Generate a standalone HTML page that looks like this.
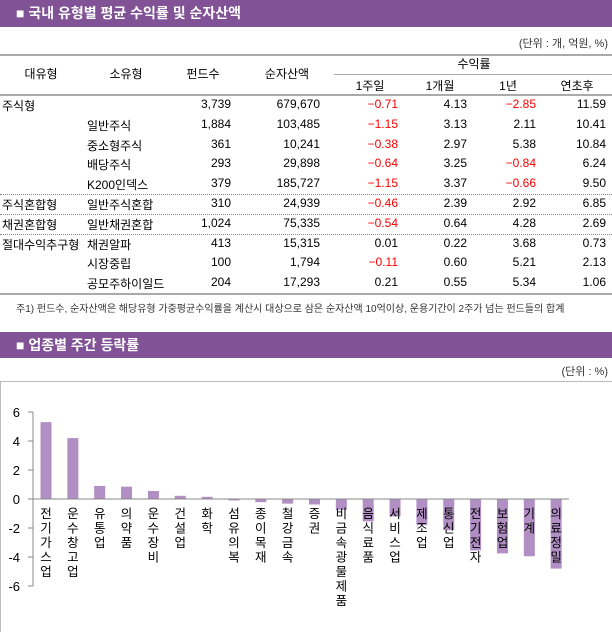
<!DOCTYPE html>
<html><head><meta charset="utf-8"><style>
body{margin:0;width:612px;height:632px;background:#fff;font-family:"Liberation Sans","Noto Sans CJK KR",sans-serif;position:relative;overflow:hidden;font-size:12px;color:#000}
.bar{position:absolute;left:0;width:612px;height:27px;background:#825296;color:#fff;font-size:14px;font-weight:bold;line-height:27px}
.bar span{margin-left:16px}
.abs{position:absolute;white-space:nowrap}
.r{text-align:right}
.red{color:#f00}
</style></head><body>
<div class="bar" style="top:0"><span>■ 국내 유형별 평균 수익률 및 순자산액</span></div>
<div class="abs" style="right:4px;top:35px;font-size:11px;color:#333">(단위 : 개, 억원, %)</div>
<div class="abs" style="left:0;top:54px;width:612px;border-top:2px solid #aaa"></div>
<div class="abs" style="left:334px;top:74px;width:278px;border-top:1px solid #aaa"></div>
<div class="abs" style="left:0;top:94px;width:612px;border-top:2px solid #aaa"></div>
<div id="tbl"></div>
<div class="abs" style="left:16px;top:300px;font-size:10px;color:#333">주1) 펀드수, 순자산액은 해당유형 가중평균수익률을 계산시 대상으로 삼은 순자산액 10억이상, 운용기간이 2주가 넘는 펀드들의 합계</div>
<div class="bar" style="top:332px;height:26px;line-height:26px"><span>■ 업종별 주간 등락률</span></div>
<div class="abs" style="right:4px;top:363px;font-size:11px;color:#333">(단위 : %)</div>
<svg class="abs" style="left:0;top:0" width="612" height="632" id="ch">
<rect x="0.5" y="381.5" width="640" height="260" fill="none" stroke="#bbb"/>
</svg>
<script>
const heads=[["대유형",41,72],["소유형",126,72],["펀드수",203,72],["순자산액",287,72],["수익률",474,62],["1주일",370,84],["1개월",440,84],["1년",508,84],["연초후",577,84]];
const rows=[["주식형","","3,739","679,670","-0.71","4.13","-2.85","11.59"],
["","일반주식","1,884","103,485","-1.15","3.13","2.11","10.41"],
["","중소형주식","361","10,241","-0.38","2.97","5.38","10.84"],
["","배당주식","293","29,898","-0.64","3.25","-0.84","6.24"],
["","K200인덱스","379","185,727","-1.15","3.37","-0.66","9.50"],
["주식혼합형","일반주식혼합","310","24,939","-0.46","2.39","2.92","6.85"],
["채권혼합형","일반채권혼합","1,024","75,335","-0.54","0.64","4.28","2.69"],
["절대수익추구형","채권알파","413","15,315","0.01","0.22","3.68","0.73"],
["","시장중립","100","1,794","-0.11","0.60","5.21","2.13"],
["","공모주하이일드","204","17,293","0.21","0.55","5.34","1.06"]];
const tb=document.getElementById('tbl');
let h='';
heads.forEach(x=>{h+=`<div class="abs" style="left:${x[1]-40}px;width:80px;text-align:center;top:${x[2]-7}px">${x[0]}</div>`;});
const rights=[231,320,398,467,536,606];
rows.forEach((r,i)=>{const y=97+i*19.8;
 h+=`<div class="abs" style="left:2px;top:${y}px">${r[0]}</div>`;
 h+=`<div class="abs" style="left:87px;top:${y}px">${r[1]}</div>`;
 for(let k=0;k<6;k++){const v=r[k+2];const red=v.startsWith('-')&&k>=2;
  h+=`<div class="abs r${red?' red':''}" style="right:${612-rights[k]}px;top:${y}px">${v.replace('-','−')}</div>`;}
});
[194,214,234].forEach(y=>{h+=`<div class="abs" style="left:0;top:${y}px;width:612px;border-top:1px dotted #888"></div>`;});
h+=`<div class="abs" style="left:0;top:293px;width:612px;border-top:2px solid #aaa"></div>`;
tb.innerHTML=h;

const categories=["전기가스업","운수창고업","유통업","의약품","운수장비","건설업","화학","섬유의복","종이목재","철강금속","증권","비금속광물제품","음식료품","서비스업","제조업","통신업","전기전자","보험업","기계","의료정밀"];
const values=[5.3,4.2,0.9,0.85,0.55,0.22,0.15,-0.1,-0.22,-0.32,-0.38,-0.75,-1.55,-1.2,-1.8,-2.15,-3.55,-3.75,-3.95,-4.8];
const ticks=[6,4,2,0,-2,-4,-6];
const NS='http://www.w3.org/2000/svg';
const svg=document.getElementById('ch');
const yS=v=>499-v*14.5, xS=i=>46+i*26.85;
function mk(t,a){const e=document.createElementNS(NS,t);for(const k in a)e.setAttribute(k,a[k]);svg.appendChild(e);return e;}
let ax=mk('line',{x1:33,x2:33,y1:yS(6),y2:yS(-6),stroke:'#888'});


ticks.forEach(t=>{let l=mk('line',{x1:28,x2:33,y1:yS(t),y2:yS(t),stroke:'#888'});


let tx=mk('text',{x:20,y:yS(t)+5,'text-anchor':'end','font-size':13,fill:'#000'});tx.textContent=t;

});
values.forEach((v,i)=>{const x=xS(i);
 let b=mk('rect',{x:x-5.5,width:11,y:Math.min(yS(v),yS(0)),height:Math.abs(yS(v)-yS(0)),fill:'#b18fc4'});
 
 
 let tx=mk('text',{x:x,y:0,'text-anchor':'middle','font-size':12.5,fill:'#000'});
 
 
 [...categories[i]].forEach((c,j)=>{let s=document.createElementNS(NS,'tspan');s.setAttribute('x',x);s.setAttribute('y',518+j*14.5);s.textContent=c;tx.appendChild(s);});
});
let za=mk('line',{x1:33,x2:569,y1:yS(0),y2:yS(0),stroke:'#888'});


</script>
</body></html>
